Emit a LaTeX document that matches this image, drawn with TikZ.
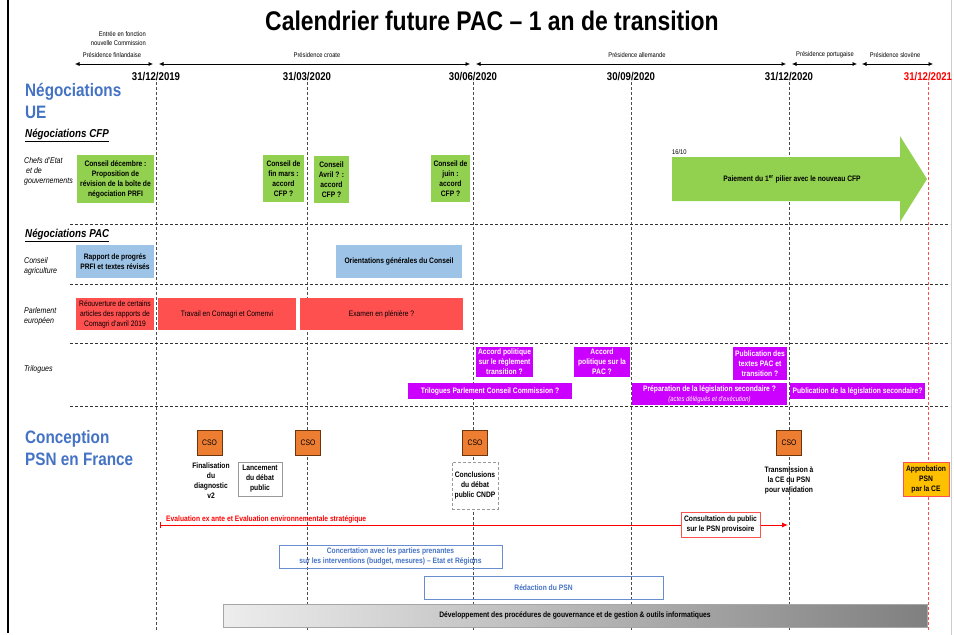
\documentclass[tikz,border=0pt]{standalone}
\usepackage{fontspec}
\setmainfont{Liberation Sans}[FakeStretch=0.85]
\usetikzlibrary{arrows.meta}

\definecolor{cfpgreen}{HTML}{92D050}
\definecolor{agriblue}{HTML}{9DC3E6}
\definecolor{parlred}{HTML}{FF5050}
\definecolor{trilmag}{HTML}{CC00FF}
\definecolor{csoorange}{HTML}{ED7D31}
\definecolor{csoedge}{HTML}{6B3510}
\definecolor{approgold}{HTML}{FFC000}
\definecolor{headblue}{HTML}{4472C4}
\definecolor{calred}{HTML}{FF0000}

\newcommand{\fTitle}{\fontsize{27}{30}\selectfont\bfseries}
\newcommand{\fDate}{\fontsize{11.3}{13}\selectfont\bfseries}
\newcommand{\fPres}{\fontsize{6.8}{9}\selectfont}
\newcommand{\fHead}{\fontsize{18}{22.5}\selectfont\bfseries}
\newcommand{\fSub}{\fontsize{11.5}{13}\selectfont\bfseries\itshape}
\newcommand{\fLab}{\fontsize{8.3}{10}\selectfont\itshape}
\newcommand{\fBox}{\fontsize{7.9}{10}\selectfont\bfseries}
\newcommand{\fBoxR}{\fontsize{7.9}{10}\selectfont}

\tikzset{
  datelbl/.style={font=\fDate, inner sep=1pt},
  preslbl/.style={font=\fPres, inner sep=0pt},
  presarrow/.style={{Latex[length=4.5pt,width=4pt]}-{Latex[length=4.5pt,width=4pt]}, line width=0.6pt},
  colline/.style={dash pattern=on 3pt off 2pt, draw=black!70, line width=0.6pt},
  sepline/.style={dash pattern=on 3pt off 2pt, draw=black!80, line width=0.7pt},
  rowlbl/.style={font=\fLab, align=left, anchor=west, inner sep=0pt},
  box/.style={inner sep=1pt, align=center, font=\fBox},
  greenbox/.style={box, fill=cfpgreen},
  bluebox/.style={box, fill=agriblue},
  redbox/.style={box, fill=parlred, font=\fBoxR},
  magbox/.style={box, fill=trilmag, text=white},
  csobox/.style={box, fill=csoorange, draw=csoedge, line width=0.6pt, font=\fontsize{8}{9}\selectfont,
    minimum width=25pt, minimum height=25pt},
  notebox/.style={box, fill=white, draw=black!40, line width=0.5pt},
  psnbox/.style={box, draw=headblue!80, line width=0.8pt, text=headblue},
}

\begin{document}
\begin{tikzpicture}[x=1pt,y=-1pt]
\useasboundingbox (0,0) rectangle (954,635);
% frame
\draw[line width=2pt] (8,0) -- (8,633);
\draw[black!20] (951,0) -- (951,635);
% title
\node (title) at (492,21) {\fTitle Calendrier future PAC -- 1 an de transition};
% dates
\node[datelbl] (d1) at (156,77) {31/12/2019};
\node[datelbl] (d2) at (307,77) {31/03/2020};
\node[datelbl] (d3) at (473,77) {30/06/2020};
\node[datelbl] (d4) at (631,77) {30/09/2020};
\node[datelbl] (d5) at (789,77) {31/12/2020};
\node[datelbl, text=calred] (d6) at (928,77) {31/12/2021};
% date columns
\coordinate (d1b) at (156,632);
\coordinate (d2b) at (307,632);
\coordinate (d3b) at (473,632);
\coordinate (d4b) at (631,632);
\coordinate (d5b) at (789,632);
\coordinate (d6b) at (928,632);
\draw[colline] (d1.south) -- (d1b);
\draw[colline] (d2.south) -- (d2b);
\draw[colline] (d3.south) -- (d3b);
\draw[colline] (d4.south) -- (d4b);
\draw[colline] (d5.south) -- (d5b);
\draw[colline, draw=calred!70] (d6.south) -- (d6b);
% presidencies
\node[preslbl, align=right, anchor=east] (entree) at (146,39) {Entrée en fonction\\nouvelle Commission};
\node[preslbl] (fi) at (112,55) {Présidence finlandaise};
\node[preslbl] (hr) at (317,55) {Présidence croate};
\node[preslbl] (de) at (637,55) {Présidence allemande};
\node[preslbl] (pt) at (825,55) {Présidence portugaise};
\node[preslbl] (si) at (895,55) {Présidence slovène};
\coordinate (fiA) at (75,64);  \coordinate (fiB) at (153,64);
\coordinate (hrA) at (159,64); \coordinate (hrB) at (470,64);
\coordinate (deA) at (476,64); \coordinate (deB) at (786,64);
\coordinate (ptA) at (792,64); \coordinate (ptB) at (857,64);
\coordinate (siA) at (862,64); \coordinate (siB) at (933,64);
\draw[presarrow] (fiA) -- (fiB);
\draw[presarrow] (hrA) -- (hrB);
\draw[presarrow] (deA) -- (deB);
\draw[presarrow] (ptA) -- (ptB);
\draw[presarrow] (siA) -- (siB);
% row separators
\coordinate (s1a) at (70,224); \coordinate (s1b) at (950,224);
\coordinate (s2a) at (70,284); \coordinate (s2b) at (950,284);
\coordinate (s3a) at (70,343); \coordinate (s3b) at (950,343);
\coordinate (s4a) at (70,406); \coordinate (s4b) at (950,406);
\draw[sepline] (s1a) -- (s1b);
\draw[sepline] (s2a) -- (s2b);
\draw[sepline] (s3a) -- (s3b);
\draw[sepline] (s4a) -- (s4b);
% left headings
\node[anchor=west, align=left, inner sep=0pt, text=headblue, font=\fHead] (negue) at (25,101) {Négociations\\UE};
\node[anchor=west, inner sep=0pt, font=\fSub] (negcfp) at (25,135) {\underline{Négociations CFP}};
\node[rowlbl] (chefs) at (24,171) {Chefs d'Etat\\\hspace{2pt}et de\\gouvernements};
\node[anchor=west, inner sep=0pt, font=\fSub] (negpac) at (25,235) {\underline{Négociations PAC}};
\node[rowlbl] (agri) at (24,266) {Conseil\\agriculture};
\node[rowlbl] (parl) at (24,316) {Parlement\\européen};
\node[rowlbl] (tril) at (24,369) {Trilogues};
\node[anchor=west, align=left, inner sep=0pt, text=headblue, font=\fHead] (psn) at (25,448) {Conception\\PSN en France};
% CFP
\node[greenbox, minimum width=77pt, minimum height=48pt] (g1) at (115.5,179) {Conseil décembre :\\Proposition de\\révision de la boîte de\\négociation PRFI};
\node[greenbox, minimum width=41pt, minimum height=47pt] (g2) at (283.5,178.5) {Conseil de\\fin mars :\\accord\\CFP ?};
\node[greenbox, minimum width=35pt, minimum height=47pt] (g3) at (331.5,179.5) {Conseil\\Avril ? :\\accord\\CFP ?};
\node[greenbox, minimum width=39pt, minimum height=47pt] (g4) at (450.5,178.5) {Conseil de\\juin :\\accord\\CFP ?};
\fill[cfpgreen] (672,157) -- (900,157) -- (900,136) -- (927,179) -- (900,222) -- (900,201) -- (672,201) -- cycle;
\node[box] (paiement) at (792,179) {Paiement du 1\textsuperscript{er} pilier avec le nouveau CFP};
\node[preslbl, anchor=west] (oct) at (672,152) {16/10};
% Conseil agriculture
\node[bluebox, minimum width=78pt, minimum height=33pt] (b1) at (115,261.5) {Rapport de progrés\\PRFI et textes révisés};
\node[bluebox, minimum width=126pt, minimum height=33pt] (b2) at (399,261.5) {Orientations générales du Conseil};
% Parlement europeen
\node[redbox, minimum width=78pt, minimum height=32pt] (r1) at (115,314) {Réouverture de certains\\articles des rapports de\\Comagri d'avril 2019};
\node[redbox, minimum width=138pt, minimum height=32pt] (r2) at (227,314) {Travail en Comagri et Comenvi};
\node[redbox, minimum width=163pt, minimum height=32pt] (r3) at (381.5,314) {Examen en plénière ?};
% Trilogues
\node[magbox, minimum width=57pt, minimum height=30pt] (m1) at (504.5,362) {Accord politique\\sur le règlement\\transition ?};
\node[magbox, minimum width=56pt, minimum height=30pt] (m2) at (602,362) {Accord\\politique sur la\\PAC ?};
\node[magbox, minimum width=54pt, minimum height=33pt] (m3) at (760,363.5) {Publication des\\textes PAC et\\transition ?};
\node[magbox, minimum width=164pt, minimum height=16pt] (m4) at (490,391) {Trilogues Parlement Conseil Commission ?};
\node[magbox, minimum width=155pt, minimum height=22pt] (m5) at (709.5,394) {Préparation de la législation secondaire ?\\{\fontsize{7}{9}\selectfont\mdseries\itshape (actes délégués et d'exécution)}};
\node[magbox, minimum width=135pt, minimum height=16pt] (m6) at (857.5,391) {Publication de la législation secondaire?};
% PSN
\node[csobox] (c1) at (209.5,442.5) {CSO};
\node[csobox] (c2) at (308,442.5) {CSO};
\node[csobox] (c3) at (475,442.5) {CSO};
\node[csobox] (c4) at (789,442.5) {CSO};
\node[box] (finalisation) at (211,481) {Finalisation\\du\\diagnostic\\v2};
\node[notebox, minimum width=44pt, minimum height=34pt] (lancement) at (260,479) {Lancement\\du débat\\public};
\node[notebox, densely dashed, minimum width=46pt, minimum height=47pt] (conclusions) at (475,485.5) {Conclusions\\du débat\\public CNDP};
\node[box] (transmission) at (789,480) {Transmission à\\la CE du PSN\\pour validation};
\node[box, fill=approgold, draw=parlred, line width=0.8pt, minimum width=46pt, minimum height=34pt] (approbation) at (926,479) {Approbation\\PSN\\par la CE};
% evaluation
\coordinate (evalA) at (160,525);
\coordinate (evalB) at (788,525);
\draw[calred, line width=1pt, {Bar[width=6pt]}-{Latex[length=6pt,width=5pt]}] (evalA) -- (evalB);
\node[box, anchor=south west, text=calred, inner sep=0pt] (evaluation) at (166,523) {Evaluation ex ante et Evaluation environnementale stratégique};
\node[box, fill=white, draw=parlred, line width=0.8pt, minimum width=79pt, minimum height=25pt] (consultation) at (720.5,524.5) {Consultation du public\\sur le PSN provisoire};
\node[psnbox, minimum width=223pt, minimum height=23pt] (concertation) at (390.5,556.5) {Concertation avec les parties prenantes\\sur les interventions (budget, mesures) -- Etat et Régions};
\node[psnbox, minimum width=239pt, minimum height=23pt] (redaction) at (543.5,587.5) {Rédaction du PSN};
\node[box, left color=black!7, right color=black!50, draw=black!35, minimum width=704pt, minimum height=23pt] (developpement) at (575,615.5) {Développement des procédures de gouvernance et de gestion \& outils informatiques};
\end{tikzpicture}
\end{document}
